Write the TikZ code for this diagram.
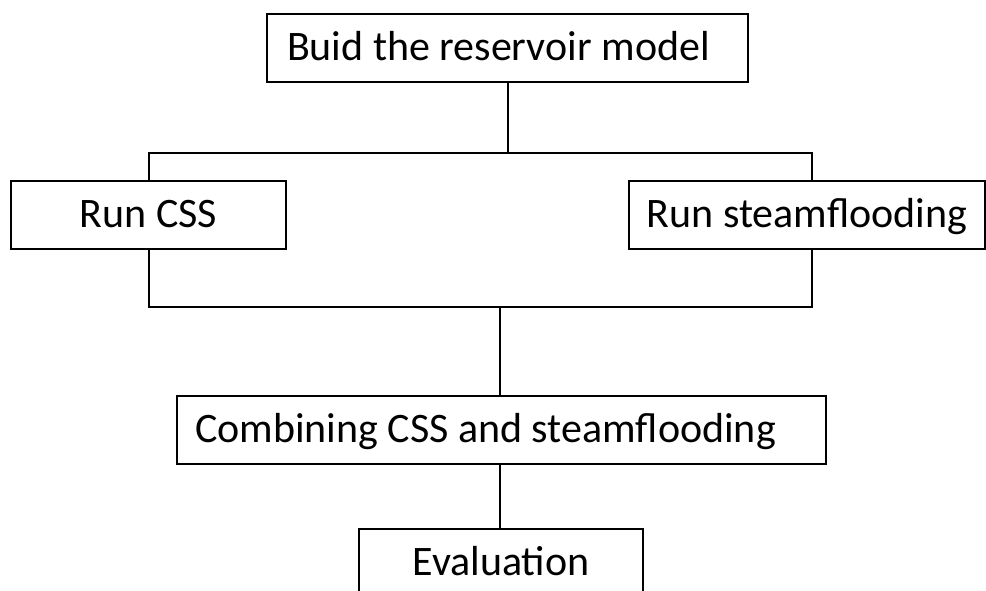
\documentclass[tikz,border=0pt]{standalone}
\usepackage{fontspec}
\setmainfont{Carlito}
\begin{document}
\begin{tikzpicture}[x=1pt,y=-1pt,
  box/.style={draw=black,line width=2pt,rectangle,inner sep=0pt,text height=35pt,text depth=10pt,font=\fontsize{42}{48}\selectfont},
  conn/.style={draw=black,line width=2pt}]
\useasboundingbox (0,0) rectangle (986,590);
\node[box,minimum width=481pt,minimum height=68pt] (top) at (507.5,47.5) {\makebox[441pt][l]{Buid the reservoir model}};
\node[box,minimum width=275pt,minimum height=68pt] (css) at (148.5,215) {Run CSS};
\node[box,minimum width=356pt,minimum height=68pt] (sf) at (807,215) {Run steamflooding};
\node[box,minimum width=649pt,minimum height=68pt] (comb) at (501.5,430) {\makebox[613pt][l]{Combining CSS and steamflooding}};
\node[box,minimum width=284pt,minimum height=68pt] (eval) at (501,563) {Evaluation};
\coordinate (tl) at (149,153);
\coordinate (tr) at (812,153);
\coordinate (bl) at (149,307);
\coordinate (br) at (812,307);
\coordinate (bm) at (500,307);
\draw[conn] (top.south) -- (top.south |- tl);
\draw[conn] (css.north -| tl) -- (tl) -- (tr) -- (sf.north -| tr);
\draw[conn] (css.south -| bl) -- (bl) -- (br) -- (sf.south -| br);
\draw[conn] (bm) -- (comb.north -| bm);
\draw[conn] (comb.south -| bm) -- (eval.north -| bm);
\end{tikzpicture}
\end{document}
